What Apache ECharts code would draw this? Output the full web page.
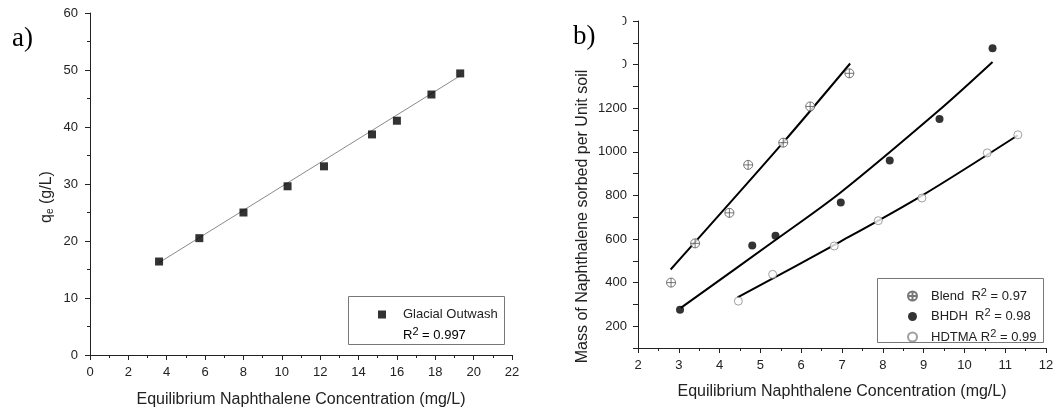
<!DOCTYPE html>
<html>
<head>
<meta charset="utf-8">
<script src="https://cdn.jsdelivr.net/npm/echarts@6/dist/echarts.min.js"></script>
<style>html,body{margin:0;padding:0;background:#fff;}#c{width:1057px;height:410px;}</style>
</head>
<body>
<div id="c"></div>
<script>
// ---- Panel a) Glacial Outwash ----
const gwX = [3.6, 5.7, 8.0, 10.3, 12.2, 14.7, 16.0, 17.8, 19.3];
const gwY = [16.4, 20.5, 25.0, 29.6, 33.1, 38.7, 41.1, 45.7, 49.4];
const gwFitX = [3.6, 19.3];
const gwFitY = [16.2, 49.0];

// ---- Panel b) ----
const blendX = [2.81, 3.40, 4.24, 4.70, 5.56, 6.22, 7.18];
const blendY = [400, 580, 720, 940, 1042, 1208, 1360];
const blendFitX = [2.8, 5.56, 7.2];
const blendFitY = [460, 1043, 1405];

const bhdhX = [3.03, 4.80, 5.37, 6.97, 8.17, 9.39, 10.69];
const bhdhY = [275, 570, 615, 767, 960, 1150, 1475];
const bhdhFitX = [3.05, 5.36, 6.95, 9.40, 10.69];
const bhdhFitY = [284, 594, 811, 1194, 1412];

const hdtmaX = [4.46, 5.30, 6.81, 7.89, 8.96, 10.56, 11.31];
const hdtmaY = [315, 438, 568, 684, 788, 995, 1078];
const hdtmaFitX = [4.44, 6.95, 8.95, 11.31];
const hdtmaFitY = [332, 587, 798, 1076];

const xTicksA = {min: 0, max: 22, interval: 2};
const yTicksA = {min: 0, max: 60, interval: 10};
const xTicksB = {min: 2, max: 12, interval: 1};
const yTicksB = {min: 100, max: 1600, interval: 100};

const zip = (a, b) => a.map((v, i) => [v, b[i]]);

const FONT = 'Liberation Sans, Arial, sans-serif';
const AX = '#222';
const circlePlus = 'path://M0,-10A10,10 0 1,1 0,10A10,10 0 1,1 0,-10ZM-10,0L10,0M0,-10L0,10';

function axisCommon(extra) {
  return Object.assign({
    type: 'value',
    axisLine: {show: true, lineStyle: {color: AX, width: 1}},
    axisTick: {show: true, inside: false, length: 5, lineStyle: {color: AX}},
    minorTick: {show: true, splitNumber: 2, length: 3, lineStyle: {color: AX}},
    splitLine: {show: false},
    axisLabel: {color: AX, fontSize: 13, fontFamily: FONT, margin: 9},
    nameLocation: 'middle',
    nameTextStyle: {color: AX, fontSize: 16, fontFamily: FONT}
  }, extra);
}

const supRich = {
  t: {fontSize: 13, fontFamily: FONT, color: AX},
  s: {fontSize: 11, fontFamily: FONT, color: AX, padding: [0, 0, 7, 0]}
};

const option = {
  backgroundColor: '#fff',
  animation: false,
  grid: [
    {left: 90, top: 13, width: 422, height: 342, containLabel: false, outerBoundsMode: 'none'},
    {left: 638, top: 21, width: 408, height: 327, containLabel: false, outerBoundsMode: 'none'}
  ],
  xAxis: [
    axisCommon({gridIndex: 0, min: xTicksA.min, max: xTicksA.max, interval: xTicksA.interval,
      axisLabel: {color: AX, fontSize: 13, fontFamily: FONT, margin: 11},
      name: 'Equilibrium Naphthalene Concentration (mg/L)', nameGap: 37}),
    axisCommon({gridIndex: 1, min: xTicksB.min, max: xTicksB.max, interval: xTicksB.interval,
      axisLabel: {color: AX, fontSize: 13, fontFamily: FONT, margin: 11},
      name: 'Equilibrium Naphthalene Concentration (mg/L)', nameGap: 36})
  ],
  yAxis: [
    axisCommon({gridIndex: 0, min: yTicksA.min, max: yTicksA.max, interval: yTicksA.interval,
      name: 'q{sub|e} (g/L)', nameGap: 35,
      axisLabel: {color: AX, fontSize: 13, fontFamily: FONT, margin: 12},
      nameTextStyle: {color: AX, fontSize: 16, fontFamily: FONT, padding: [0, 26, 0, 0],
        rich: {sub: {fontSize: 10, fontFamily: FONT, color: AX, padding: [7, 0, 0, 0]}}}}),
    axisCommon({gridIndex: 1, min: yTicksB.min, max: yTicksB.max, interval: yTicksB.interval,
      name: 'Mass of Naphthalene sorbed per Unit soil', nameGap: 47,
      minorTick: {show: false},
      axisLabel: {color: AX, fontSize: 13, fontFamily: FONT, margin: 11,
        formatter: v => (v % 200 === 0 ? String(v) : '')},
      nameTextStyle: {color: AX, fontSize: 16, fontFamily: FONT, padding: [0, 64, 0, 0]}})
  ],
  legend: [
    {
      left: 373, top: 303, orient: 'vertical', itemWidth: 8, itemHeight: 8,
      data: [{name: 'Glacial Outwash', icon: 'rect'}],
      formatter: n => '{t|' + n + '}',
      textStyle: {rich: {t: {fontSize: 13, fontFamily: FONT, color: AX, padding: [0, 0, 0, 12]}}},
      selectedMode: false
    },
    {
      left: 902, top: 282, orient: 'vertical', itemWidth: 9, itemHeight: 9, itemGap: 5,
      data: ['Blend', 'BHDH', 'HDTMA'],
      formatter: function (n) {
        const r = {Blend: '0.97', BHDH: '0.98', HDTMA: '0.99'}[n];
        const pad = n === 'HDTMA' ? ' ' : '  ';
        return '{t|' + n + pad + 'R}{s|2}{t| = ' + r + '}';
      },
      textStyle: {rich: {
        t: {fontSize: 13, fontFamily: FONT, color: AX},
        s: {fontSize: 11, fontFamily: FONT, color: AX, padding: [0, 0, 7, 0]}
      }, padding: [0, 0, 0, 9]},
      selectedMode: false
    }
  ],
  graphic: [
    {type: 'rect', shape: {x: 348.5, y: 296.5, width: 156, height: 48},
      style: {fill: 'none', stroke: '#777', lineWidth: 1}, z: 50},
    {type: 'text', x: 403, y: 335, z: 50,
      style: {text: '{t|R}{s|2}{t| = 0.997}', verticalAlign: 'middle', rich: supRich}},
    {type: 'rect', shape: {x: 877.5, y: 278.5, width: 166, height: 64},
      style: {fill: 'none', stroke: '#777', lineWidth: 1}, z: 50},
    {type: 'rect', shape: {x: 588, y: 8, width: 34.5, height: 70},
      style: {fill: '#fff'}, z: 100},
    {type: 'text', x: 12, y: 39, z: 110,
      style: {text: 'a)', fontFamily: 'Liberation Serif, Times New Roman, serif', fontSize: 27,
        fill: '#000', verticalAlign: 'middle'}},
    {type: 'text', x: 573, y: 37, z: 110,
      style: {text: 'b)', fontFamily: 'Liberation Serif, Times New Roman, serif', fontSize: 27,
        fill: '#000', verticalAlign: 'middle'}}
  ],
  series: [
    {name: 'Glacial Outwash fit', type: 'line', xAxisIndex: 0, yAxisIndex: 0,
      data: zip(gwFitX, gwFitY), showSymbol: false, symbol: 'none',
      lineStyle: {color: '#8a8a8a', width: 1}, z: 2},
    {name: 'Glacial Outwash', type: 'scatter', xAxisIndex: 0, yAxisIndex: 0,
      data: zip(gwX, gwY), symbol: 'rect', symbolSize: 8,
      itemStyle: {color: '#000'}, z: 3},

    {name: 'Blend fit', type: 'line', xAxisIndex: 1, yAxisIndex: 1,
      data: zip(blendFitX, blendFitY), symbol: 'none', smooth: 0.3,
      lineStyle: {color: '#000', width: 2}, z: 2},
    {name: 'BHDH fit', type: 'line', xAxisIndex: 1, yAxisIndex: 1,
      data: zip(bhdhFitX, bhdhFitY), symbol: 'none', smooth: 0.3,
      lineStyle: {color: '#000', width: 2}, z: 2},
    {name: 'HDTMA fit', type: 'line', xAxisIndex: 1, yAxisIndex: 1,
      data: zip(hdtmaFitX, hdtmaFitY), symbol: 'none', smooth: 0.3,
      lineStyle: {color: '#000', width: 2}, z: 2},

    {name: 'Blend', type: 'scatter', xAxisIndex: 1, yAxisIndex: 1,
      data: zip(blendX, blendY), symbol: circlePlus, symbolSize: 9,
      itemStyle: {color: '#fff', borderColor: '#555', borderWidth: 1}, z: 3},
    {name: 'BHDH', type: 'scatter', xAxisIndex: 1, yAxisIndex: 1,
      data: zip(bhdhX, bhdhY), symbol: 'circle', symbolSize: 8,
      itemStyle: {color: '#000'}, z: 3},
    {name: 'HDTMA', type: 'scatter', xAxisIndex: 1, yAxisIndex: 1,
      data: zip(hdtmaX, hdtmaY), symbol: 'circle', symbolSize: 8,
      itemStyle: {color: '#fff', borderColor: '#888', borderWidth: 1}, z: 3}
  ]
};

const chart = echarts.init(document.getElementById('c'), null, {renderer: 'canvas'});
chart.setOption(option);
</script>
</body>
</html>
